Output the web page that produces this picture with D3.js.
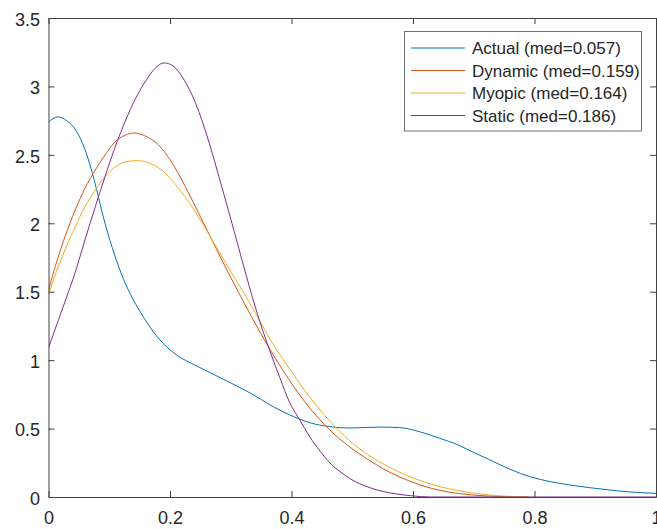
<!DOCTYPE html>
<html>
<head>
<meta charset="utf-8">
<script src="https://cdn.jsdelivr.net/npm/d3@7"></script>
<style>
  html, body { margin: 0; padding: 0; background: #fff; }
  svg { display: block; }
  text { font-family: "Liberation Sans", Arial, Helvetica, sans-serif; fill: #262626; }
</style>
</head>
<body>
<svg id="chart" width="657" height="529"></svg>
<script>
// ---- data ----
const seriesNames = ["Actual (med=0.057)", "Dynamic (med=0.159)", "Myopic (med=0.164)", "Static (med=0.186)"];
const seriesColors = ["#0072BD", "#D95319", "#EDB120", "#7E2F8E"];

const actualX = [0, 0.015, 0.03, 0.045, 0.06, 0.075, 0.09, 0.105, 0.12, 0.135, 0.15, 0.165, 0.18, 0.195, 0.21, 0.241, 0.274, 0.307, 0.34, 0.365, 0.397, 0.43, 0.463, 0.496, 0.546, 0.578, 0.611, 0.644, 0.677, 0.694, 0.727, 0.76, 0.793, 0.826, 0.858, 0.891, 0.924, 0.957, 1.0];
const actualY = [2.74, 2.777, 2.75, 2.68, 2.54, 2.32, 2.05, 1.82, 1.63, 1.48, 1.36, 1.255, 1.165, 1.095, 1.04, 0.964, 0.891, 0.818, 0.74, 0.672, 0.60, 0.543, 0.514, 0.504, 0.511, 0.507, 0.477, 0.429, 0.375, 0.338, 0.27, 0.202, 0.148, 0.112, 0.088, 0.068, 0.051, 0.037, 0.027];

const dynamicX = [0, 0.011, 0.027, 0.044, 0.06, 0.077, 0.093, 0.109, 0.126, 0.14, 0.159, 0.181, 0.203, 0.225, 0.247, 0.271, 0.297, 0.323, 0.345, 0.365, 0.397, 0.43, 0.463, 0.496, 0.529, 0.562, 0.595, 0.628, 0.661, 0.694, 0.743, 0.79];
const dynamicY = [1.51, 1.683, 1.90, 2.097, 2.256, 2.389, 2.499, 2.592, 2.643, 2.66, 2.638, 2.572, 2.445, 2.27, 2.075, 1.86, 1.63, 1.41, 1.23, 1.075, 0.85, 0.65, 0.49, 0.365, 0.265, 0.18, 0.115, 0.066, 0.035, 0.016, 0.004, 0];

const myopicX = [0, 0.008, 0.027, 0.044, 0.06, 0.077, 0.093, 0.109, 0.126, 0.145, 0.164, 0.186, 0.208, 0.23, 0.252, 0.271, 0.297, 0.323, 0.345, 0.365, 0.397, 0.43, 0.463, 0.496, 0.529, 0.562, 0.595, 0.628, 0.661, 0.694, 0.727, 0.79];
const myopicY = [1.476, 1.585, 1.805, 1.975, 2.121, 2.243, 2.341, 2.409, 2.448, 2.458, 2.443, 2.389, 2.29, 2.16, 2.01, 1.865, 1.67, 1.48, 1.31, 1.15, 0.935, 0.73, 0.555, 0.41, 0.30, 0.215, 0.148, 0.096, 0.058, 0.032, 0.014, 0];

const staticX = [0, 0.016, 0.033, 0.041, 0.06, 0.077, 0.093, 0.109, 0.126, 0.142, 0.16, 0.175, 0.19, 0.205, 0.22, 0.236, 0.252, 0.269, 0.285, 0.302, 0.318, 0.333, 0.348, 0.365, 0.381, 0.397, 0.414, 0.43, 0.447, 0.463, 0.48, 0.496, 0.529, 0.562, 0.595, 0.63, 1.0];
const staticY = [1.09, 1.29, 1.50, 1.60, 1.878, 2.121, 2.341, 2.548, 2.742, 2.90, 3.04, 3.13, 3.172, 3.15, 3.07, 2.94, 2.76, 2.52, 2.27, 2.00, 1.74, 1.50, 1.28, 1.06, 0.87, 0.69, 0.56, 0.44, 0.335, 0.25, 0.185, 0.135, 0.068, 0.03, 0.01, 0, 0];

const xTicks = [0, 0.2, 0.4, 0.6, 0.8, 1];
const xTickLabels = ["0", "0.2", "0.4", "0.6", "0.8", "1"];
const yTicks = [0, 0.5, 1, 1.5, 2, 2.5, 3, 3.5];
const yTickLabels = ["0", "0.5", "1", "1.5", "2", "2.5", "3", "3.5"];

// ---- layout ----
const L = 48.5, R = 656, T = 18, B = 497;
const svg = d3.select("#chart");
const x = d3.scaleLinear().domain([0, 1]).range([L, R]);
const y = d3.scaleLinear().domain([0, 3.5]).range([B, T]);

const allX = [actualX, dynamicX, myopicX, staticX];
const allY = [actualY, dynamicY, myopicY, staticY];

svg.append("defs").append("clipPath").attr("id", "clip")
  .append("rect").attr("x", L).attr("y", T).attr("width", R - L).attr("height", B - T);

const line = d3.line().x(d => x(d[0])).y(d => y(d[1])).curve(d3.curveMonotoneX);
const plot = svg.append("g").attr("clip-path", "url(#clip)");
allX.forEach((xs, i) => {
  const pts = xs.map((v, j) => [v, allY[i][j]]);
  plot.append("path").attr("d", line(pts))
    .attr("fill", "none").attr("stroke", seriesColors[i]).attr("stroke-width", 1);
});

// ---- axes (MATLAB style box, inward ticks) ----
const axisColor = "#404040";
const fmtX = (d, i) => xTickLabels[i];
const fmtY = (d, i) => yTickLabels[i];

const gx = svg.append("g").attr("transform", `translate(0,${B})`)
  .call(d3.axisBottom(x).tickValues(xTicks).tickFormat(fmtX).tickSizeInner(-6).tickSizeOuter(0).tickPadding(14));
const gxTop = svg.append("g").attr("transform", `translate(0,${T})`)
  .call(d3.axisTop(x).tickValues(xTicks).tickFormat("").tickSizeInner(-6).tickSizeOuter(0));
const gy = svg.append("g").attr("transform", `translate(${L},0)`)
  .call(d3.axisLeft(y).tickValues(yTicks).tickFormat(fmtY).tickSizeInner(-6).tickSizeOuter(0).tickPadding(8.5));
const gyR = svg.append("g").attr("transform", `translate(${R},0)`)
  .call(d3.axisRight(y).tickValues(yTicks).tickFormat("").tickSizeInner(-6).tickSizeOuter(0));

[gx, gxTop, gy, gyR].forEach(g => {
  g.select(".domain").attr("stroke", axisColor).attr("stroke-width", 1);
  g.selectAll(".tick line").attr("stroke", axisColor).attr("stroke-width", 1);
  g.selectAll(".tick text").attr("fill", "#262626")
    .style("font-family", '"Liberation Sans", Arial, sans-serif').style("font-size", "18px");
});
gy.selectAll(".tick text").attr("dy", "0.4em");

// ---- legend ----
const lg = svg.append("g");
lg.append("rect").attr("x", 404.5).attr("y", 31.5).attr("width", 237).attr("height", 99.5)
  .attr("fill", "#fff").attr("stroke", "#6e6e6e").attr("stroke-width", 1);
seriesNames.forEach((name, i) => {
  const yy = 48 + i * 22.5;
  lg.append("line").attr("x1", 411).attr("x2", 465).attr("y1", yy).attr("y2", yy)
    .attr("stroke", seriesColors[i]).attr("stroke-width", 1);
  lg.append("text").attr("x", 472).attr("y", yy).attr("dy", "0.36em")
    .style("font-size", "17px").text(name);
});
</script>
</body>
</html>
